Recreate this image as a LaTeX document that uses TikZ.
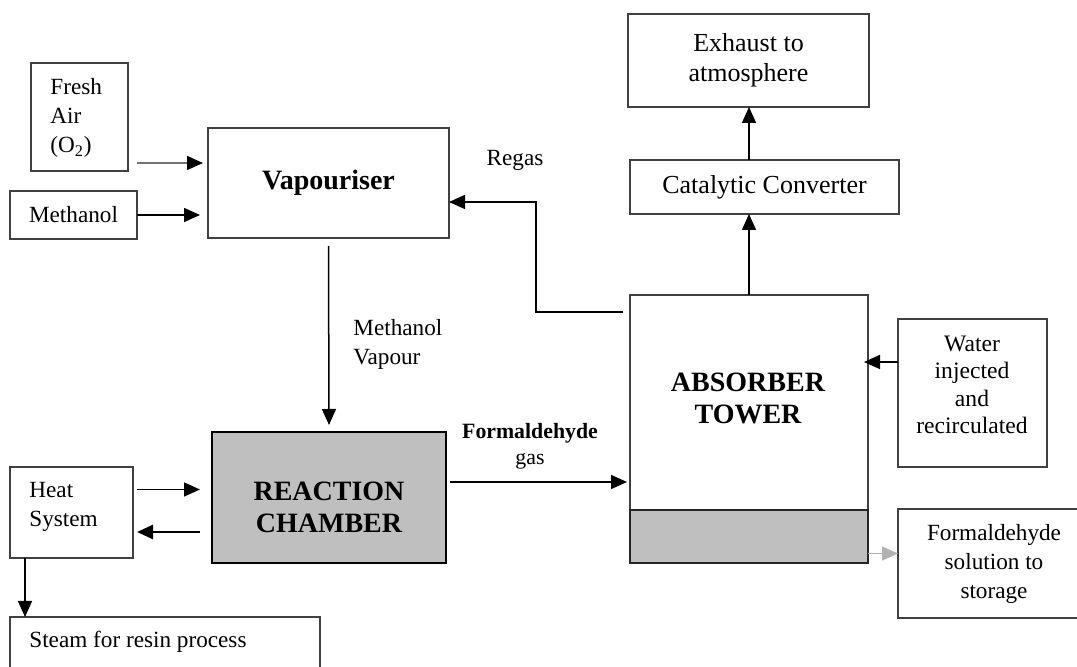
\documentclass[tikz,border=0pt]{standalone}
\usepackage{fontspec}
\setmainfont{Liberation Serif}
\usetikzlibrary{arrows.meta,calc}

\tikzset{
  unit/.style={draw=black!75, line width=0.8pt, inner sep=0pt, outer sep=0pt, fill=white},
  flow/.style={-{Triangle[length=8pt,width=7pt]}, line width=0.75pt},
  txt/.style={font=\fontsize{11.6}{14.5}\selectfont, align=center, inner sep=0pt},
  ttl/.style={font=\fontsize{14}{16}\selectfont\bfseries, align=center, inner sep=0pt},
  big/.style={font=\fontsize{13}{15}\selectfont, align=center},
}

\begin{document}
\begin{tikzpicture}[x=0.5pt,y=-0.5pt] % pixel grid, 1077 x 667
   \useasboundingbox (0,0) rectangle (1077,667);
   \clip (0,0) rectangle (1077,667);
   % feeds and vapouriser
   \node[unit, minimum width=48.5pt, minimum height=54pt] (fresh) at (79.5,117) {};
   \node[txt, align=left, anchor=west] (freshtxt) at (50,118) {Fresh\\Air\\(O\textsubscript{2})};
   \node[unit, txt, minimum width=63.5pt, minimum height=24pt] (meth) at (73.5,215) {Methanol};
   \node[unit, ttl, minimum width=120.5pt, minimum height=55pt] (vap) at (328.5,183) {Vapouriser};
   \node[txt] (regas) at (515,160) {Regas};
   \node[txt, align=left, anchor=west] (mvap) at (353,344) {Methanol\\Vapour};
   % reaction and heat
   \node[unit, fill=black!25, draw=black, line width=1pt, minimum width=117pt, minimum height=65.5pt] (react) at (329,497.5) {};
   \node[ttl] (reacttxt) at (329,507) {REACTION\\CHAMBER};
   \node[unit, minimum width=61.5pt, minimum height=45.5pt] (heat) at (71.5,512.5) {};
   \node[txt, align=left, anchor=west] (heattxt) at (29,507) {Heat\\System};
   \node[unit, minimum width=155pt, minimum height=41.5pt] (steam) at (165,658.5) {};
   \node[txt, anchor=west] (steamtxt) at (29,642) {Steam for resin process};
   \node[font=\fontsize{10.9}{13}\selectfont, align=center, inner sep=0pt] (gastxt) at (530,446) {\textbf{Formaldehyde}\\gas};
   % absorber side
   \node[unit, minimum width=119pt, minimum height=134pt] (absorb) at (749,429) {};
   \node[unit, draw=black!85, fill=black!25, minimum width=119pt, minimum height=26.5pt, anchor=south] (band) at (absorb.south) {};
   \node[ttl] (abstxt) at (748,398) {ABSORBER\\TOWER};
   \node[unit, big, minimum width=134.5pt, minimum height=27pt] (cat) at (764.5,187) {Catalytic Converter};
   \node[unit, big, minimum width=120.5pt, minimum height=46.5pt] (exh) at (748.5,60.5) {Exhaust to\\atmosphere};
   \node[unit, minimum width=74.5pt, minimum height=74pt] (water) at (972.5,393) {};
   \node[font=\fontsize{11.8}{13.7}\selectfont, align=center, inner sep=0pt] (watertxt) at (972,385) {Water\\injected\\and\\recirculated};
   \node[unit, txt, minimum width=96pt, minimum height=54.5pt] (sol) at (994,563.5) {Formaldehyde\\solution to\\storage};
   % connectors
   \coordinate (regasin) at ($(vap.east)+(0,19)$);
   \coordinate (heatout) at ($(heat.south west)+(15,0)$);
   \draw[flow, draw=black!55, -{Triangle[length=8pt,width=7pt,color=black]}] ($(fresh.south east)+(9,-8)$) -- ($(fresh.south east -| vap.west)+(-5,-8)$);
   \draw[flow] (meth.east) -- ($(meth.east -| vap.west)+(-8,0)$);
   \draw[flow] ($(vap.south)+(0,8)$) -- ($(react.north)+(0,-7)$);
   \draw[flow] ($(heat.east)+(4,-23)$) -- ($(heat.east -| react.west)+(-12,-23)$);
   \draw[flow, line width=1.3pt] ($(react.west)+(-12,34.5)$) -- ($(react.west -| heat.east)+(4,34.5)$);
   \draw[flow] (heatout) -- (heatout |- steam.north);
   \draw[flow] ($(react.east)+(4,-15.5)$) -- ($(react.east -| absorb.west)+(-3,-15.5)$);
   \draw[flow] (absorb.north) -- (absorb.north |- cat.south);
   \draw[flow] (cat.north -| absorb.north) -- (absorb.north |- exh.south);
   \draw[flow] ($(absorb.north west)+(-7,17)$) -| ($(regasin)+(87,0)$) -- (regasin);
   \draw[flow] ($(water.west)+(0,-31)$) -- ($(water.west -| absorb.east)+(-4,-31)$);
   \draw[flow, draw=black!30, line width=0.7pt] ($(sol.west -| absorb.east)+(0,-10)$) -- ($(sol.west)+(0,-10)$);
\end{tikzpicture}
\end{document}
